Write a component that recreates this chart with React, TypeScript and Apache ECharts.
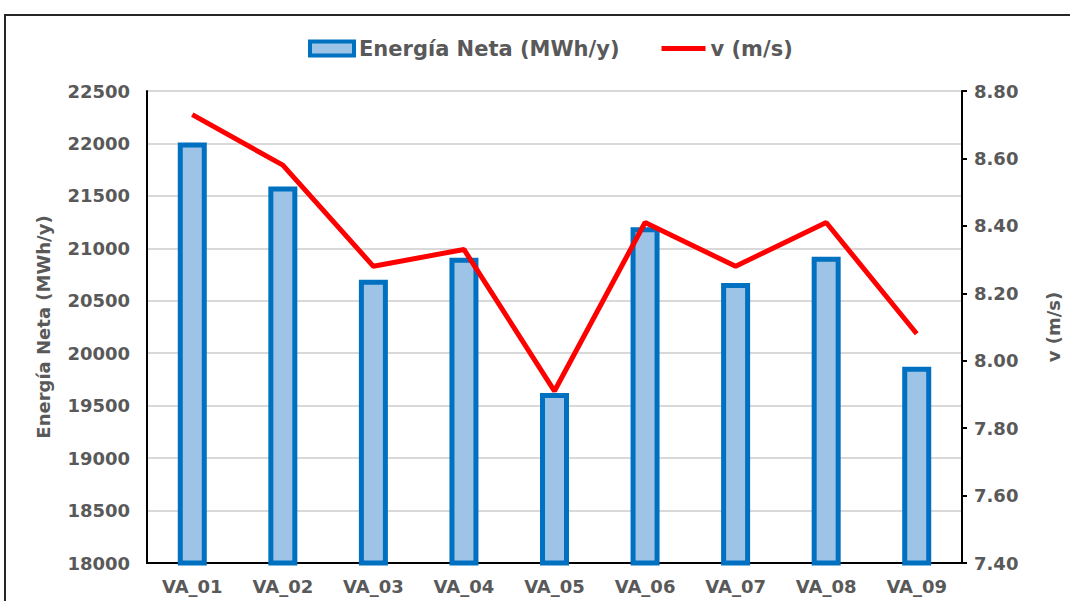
import React, { useEffect, useRef } from "react";
import * as echarts from "echarts";

const categories = ["VA_01", "VA_02", "VA_03", "VA_04", "VA_05", "VA_06", "VA_07", "VA_08", "VA_09"];
const energia = [22010, 21590, 20700, 20910, 19620, 21200, 20670, 20920, 19870];
const velocidad = [8.73, 8.58, 8.28, 8.33, 7.91, 8.41, 8.28, 8.41, 8.08];

const FONT = "'DejaVu Sans', Verdana, sans-serif";
const GRAY = "#595959";

export default function App() {
  const ref = useRef<HTMLDivElement>(null);
  useEffect(() => {
    if (!ref.current) return;
    const chart = echarts.init(ref.current, null, { renderer: "svg" });
    chart.setOption({
      animation: false,
      backgroundColor: "#ffffff",
      textStyle: { fontFamily: FONT, fontWeight: "bold", color: GRAY },
      graphic: [
        {
          type: "rect",
          shape: { x: 5, y: 15, width: 1100, height: 620 },
          style: { fill: "none", stroke: "#262626", lineWidth: 2 },
          silent: true,
        },
      ],
      legend: {
        top: 33,
        left: 303,
        itemWidth: 44,
        itemHeight: 14,
        itemGap: 42,
        symbolKeepAspect: true,
        textStyle: { fontFamily: FONT, fontWeight: "bold", color: GRAY, fontSize: 21 },
        data: [
          {
            name: "Energía Neta (MWh/y)",
            icon: "rect",
            itemStyle: { color: "#9DC3E6", borderColor: "#0070C0", borderWidth: 4 },
          },
          {
            name: "v (m/s)",
            icon: "path://M0,0H44V5H0Z",
            itemStyle: { color: "#FF0000" },
          },
        ],
      },
      grid: { left: 147, right: 102, top: 91, bottom: 38, containLabel: false },
      xAxis: {
        type: "category",
        data: categories,
        axisLine: { show: true, lineStyle: { color: "#000", width: 2 } },
        axisTick: { show: false },
        axisLabel: { color: GRAY, fontFamily: FONT, fontWeight: "bold", fontSize: 18, margin: 14 },
      },
      yAxis: [
        {
          type: "value",
          min: 18000,
          max: 22500,
          interval: 500,
          name: "Energía Neta (MWh/y)",
          nameLocation: "middle",
          nameGap: 95,
          nameRotate: 90,
          nameTextStyle: { color: GRAY, fontFamily: FONT, fontWeight: "bold", fontSize: 18 },
          axisLine: { show: true, lineStyle: { color: "#000", width: 2 } },
          axisTick: { show: false },
          axisLabel: {
            color: GRAY,
            fontFamily: FONT,
            fontWeight: "bold",
            fontSize: 18,
            margin: 17,
            formatter: (v: number) => String(v),
          },
          splitLine: { show: true, lineStyle: { color: "#D9D9D9", width: 2 } },
        },
        {
          type: "value",
          min: 7.4,
          max: 8.8,
          interval: 0.2,
          position: "right",
          name: "v (m/s)",
          nameLocation: "middle",
          nameGap: 82,
          nameRotate: 90,
          nameTextStyle: { color: GRAY, fontFamily: FONT, fontWeight: "bold", fontSize: 18 },
          axisLine: { show: true, lineStyle: { color: "#000", width: 2 } },
          axisTick: { show: true, length: 5, lineStyle: { color: "#000", width: 2 } },
          axisLabel: {
            color: GRAY,
            fontFamily: FONT,
            fontWeight: "bold",
            fontSize: 18,
            margin: 12,
            formatter: (v: number) => v.toFixed(2),
          },
          splitLine: { show: false },
        },
      ],
      series: [
        {
          name: "Energía Neta (MWh/y)",
          type: "bar",
          data: energia,
          barWidth: 29,
          yAxisIndex: 0,
          itemStyle: { color: "#9DC3E6", borderColor: "#0070C0", borderWidth: 5 },
        },
        {
          name: "v (m/s)",
          type: "line",
          data: velocidad,
          yAxisIndex: 1,
          symbol: "none",
          lineStyle: { color: "#FF0000", width: 5 },
          itemStyle: { color: "#FF0000" },
        },
      ],
    });
    return () => chart.dispose();
  }, []);
  return (
    <div
      ref={ref}
      style={{ position: "fixed", left: 0, top: 0, width: 1070, height: 601 }}
    />
  );
}
